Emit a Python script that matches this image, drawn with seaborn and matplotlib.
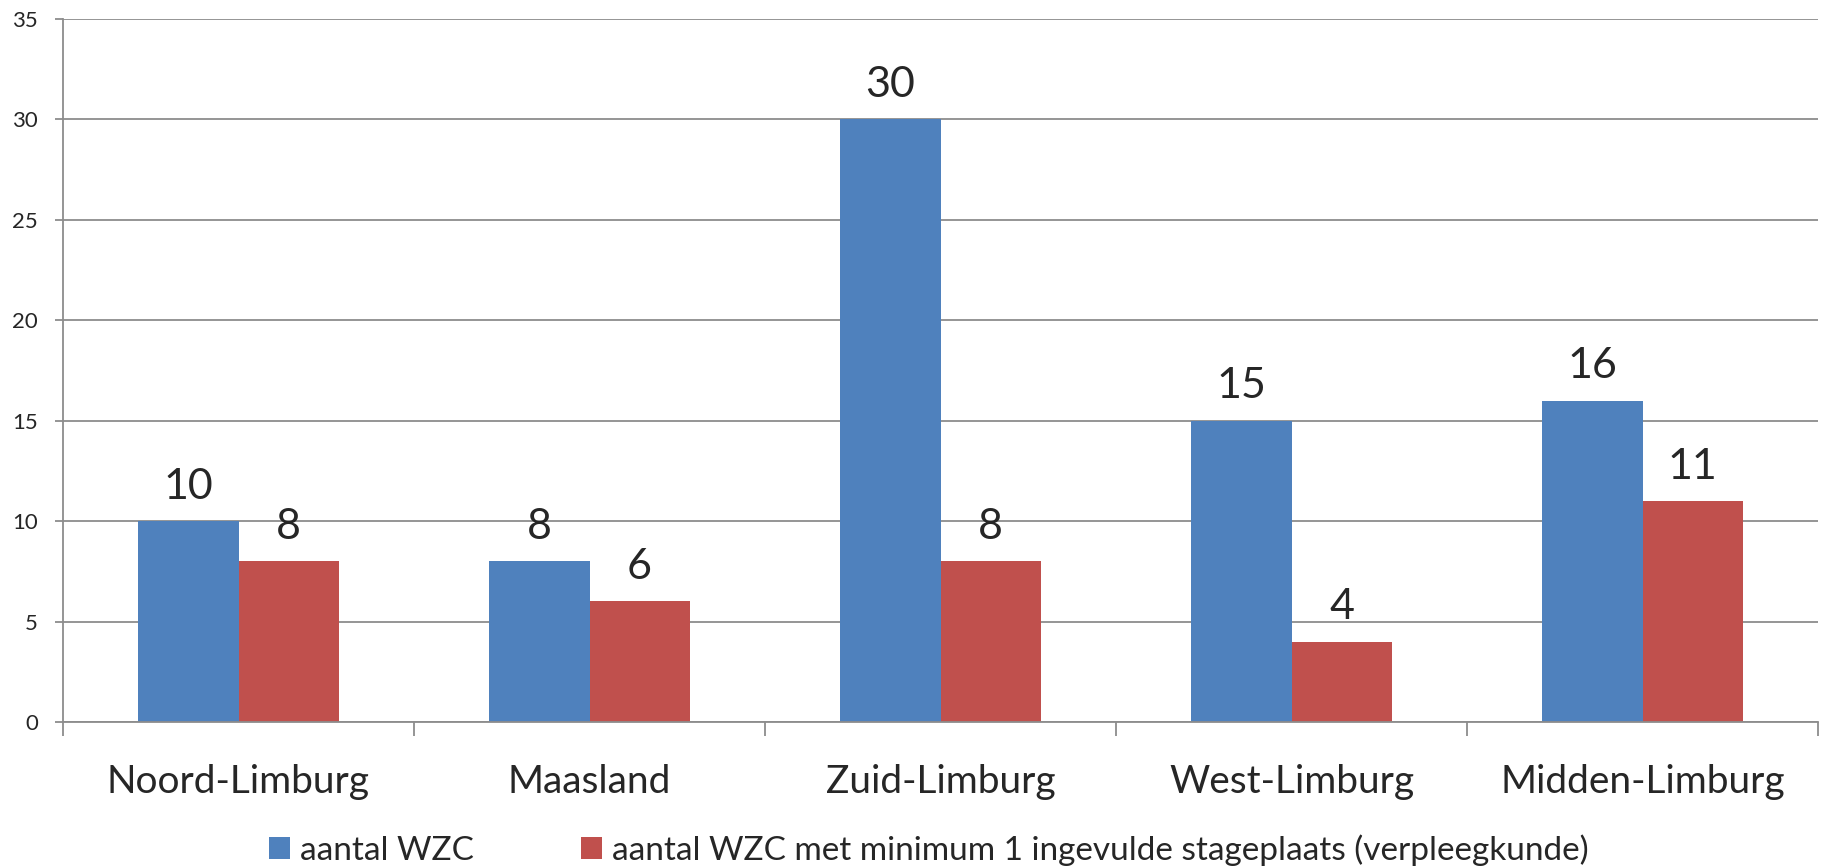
import matplotlib
matplotlib.use("Agg")
import matplotlib.pyplot as plt
import seaborn as sns
import pandas as pd
from matplotlib.ticker import FixedLocator, MultipleLocator

regions = ["Noord-Limburg", "Maasland", "Zuid-Limburg", "West-Limburg", "Midden-Limburg"]
series_names = ["aantal WZC",
                "aantal WZC met minimum 1 ingevulde stageplaats (verpleegkunde)"]
aantal_wzc = [10, 8, 30, 15, 16]
aantal_met_stage = [8, 6, 8, 4, 11]
colors = ["#4F81BD", "#C0504D"]

df = pd.DataFrame({
    "regio": regions * 2,
    "reeks": [series_names[0]] * len(regions) + [series_names[1]] * len(regions),
    "waarde": aantal_wzc + aantal_met_stage,
})

sns.set_theme(style="white")
plt.rcParams["font.family"] = ["Lato", "DejaVu Sans"]

fig = plt.figure(figsize=(18.24, 8.68), dpi=100)
ax = fig.add_axes([63 / 1824, 1 - 722 / 868, (1818 - 63) / 1824, (722 - 19) / 868])

sns.barplot(data=df, x="regio", y="waarde", hue="reeks", order=regions,
            hue_order=series_names, palette=colors, width=0.57,
            saturation=1, edgecolor="none", linewidth=0, ax=ax, legend=True)

grid_col = "#8C8C8C"
ax.set_ylim(0, 35)
ax.set_xlim(-0.5, len(regions) - 0.5)
ax.yaxis.set_major_locator(MultipleLocator(5))
ax.grid(axis="y", color=grid_col, linewidth=1.3)
ax.set_axisbelow(True)

for s in ["top", "right"]:
    ax.spines[s].set_visible(False)
for s in ["left", "bottom"]:
    ax.spines[s].set_color(grid_col)
    ax.spines[s].set_linewidth(1.3)

ax.tick_params(axis="y", which="major", length=6, width=1.3, color=grid_col,
               labelsize=16, pad=12, left=True)
ax.tick_params(axis="x", which="major", length=0, labelsize=28, pad=30)
ax.xaxis.set_minor_locator(FixedLocator([i - 0.5 for i in range(len(regions) + 1)]))
ax.tick_params(axis="x", which="minor", length=10, width=1.3, color=grid_col,
               bottom=True)
ax.set_xlabel("")
ax.set_ylabel("")

for cont in ax.containers:
    ax.bar_label(cont, fmt="%d", fontsize=31, padding=11)

handles, labels = ax.get_legend_handles_labels()
ax.get_legend().remove()
fig.legend(handles, labels, loc="center", bbox_to_anchor=(929 / 1824, 1 - 850 / 868),
           ncol=2, frameon=False, fontsize=24, handlelength=0.63, handleheight=0.63,
           handletextpad=0.3, columnspacing=3.2)

fig.savefig("out.png", dpi=100, facecolor="white")
